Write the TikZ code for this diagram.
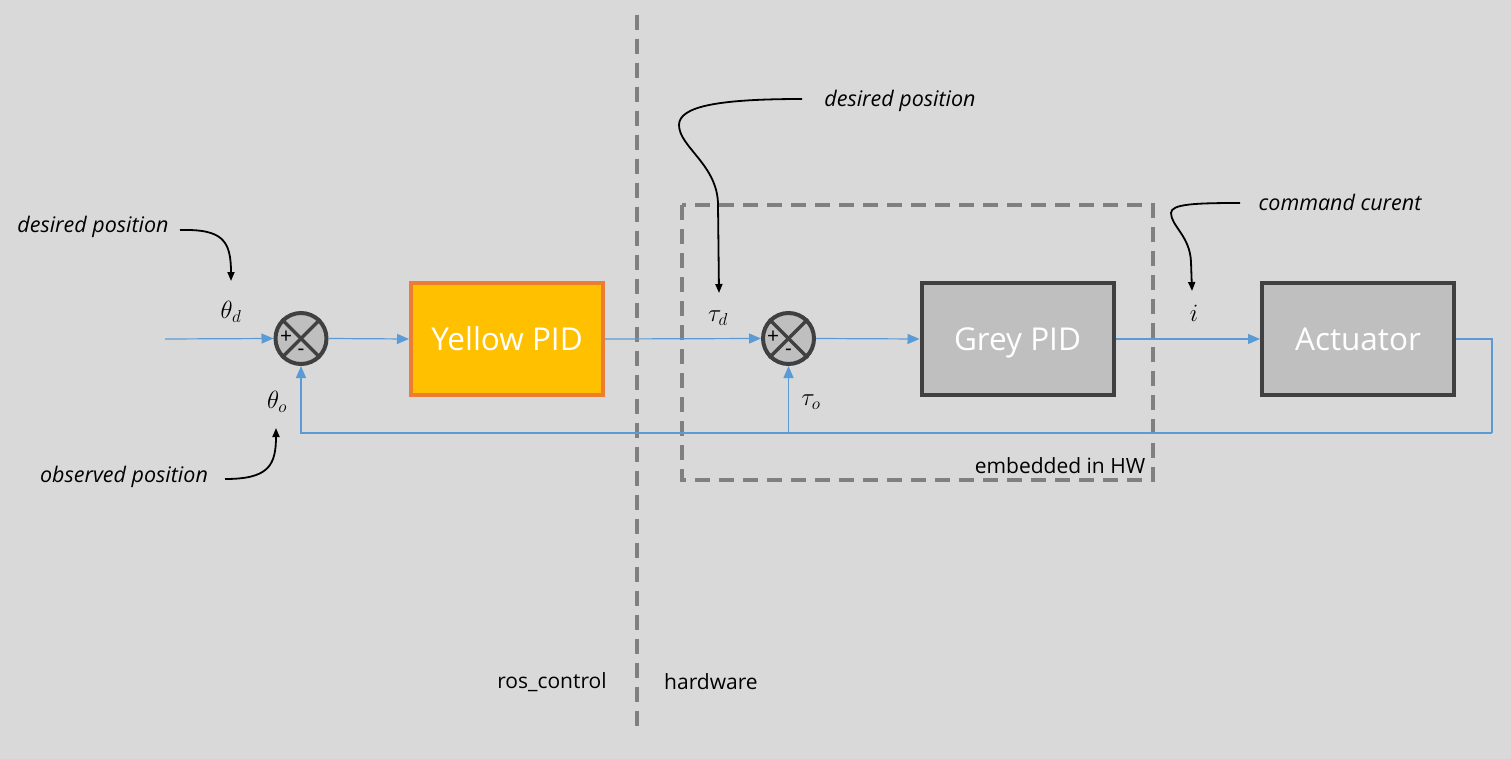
\documentclass[tikz,border=0pt]{standalone}
\usepackage{fontspec}
\setmainfont{Open Sans}
\usetikzlibrary{arrows.meta}
\definecolor{bg}{HTML}{D9D9D9}
\definecolor{sig}{HTML}{5B9BD5}
\definecolor{dk}{HTML}{404040}
\definecolor{boxgrey}{HTML}{BFBFBF}
\definecolor{ylw}{HTML}{FFC000}
\definecolor{org}{HTML}{ED7D31}
\definecolor{dash}{HTML}{808080}
\tikzset{
  sigline/.style={draw=sig, line width=1.2pt},
  sigarrow/.style={sigline, -{Triangle[length=12pt,width=10pt]}},
  sumnode/.style={circle, draw=dk, fill=boxgrey, line width=4pt, minimum size=51pt, inner sep=0pt},
  blockbox/.style={rectangle, line width=4pt, minimum width=192pt, minimum height=112pt, inner sep=0pt, text=white, font=\fontsize{31.5}{36}\selectfont, text height=22.5pt, text depth=0pt},
  notetext/.style={font=\fontsize{21.5}{25}\selectfont\itshape, inner sep=0pt},
  plaintext/.style={font=\fontsize{21}{25}\selectfont, inner sep=0pt},
  mathlabel/.style={font=\fontsize{23}{27}\selectfont, inner sep=0pt},
  signtext/.style={font=\fontsize{21}{24}\selectfont, inner sep=0pt},
  curvearrow/.style={draw=black, line width=1.8pt, -{Triangle[length=9pt,width=7pt]}},
  dashline/.style={draw=dash, line width=3.5pt, dash pattern=on 15pt off 9pt},
}
\begin{document}
\begin{tikzpicture}[x=1pt,y=-1pt]
\fill[bg] (0,0) rectangle (1511,759);
\useasboundingbox (0,0) rectangle (1511,759);

% dashed separators
\coordinate (vtop) at (637,15);
\coordinate (vbot) at (637,728);
\draw[dashline] (vtop) -- (vbot);
\coordinate (ebtl) at (682,205);
\coordinate (ebbr) at (1153,480);
\draw[dashline] (ebtl) rectangle (ebbr);

% blocks
\node[sumnode] (sum1) at (301,338.5) {};
\draw[dk, line width=3.5pt] (sum1.north west) -- (sum1.south east);
\draw[dk, line width=3.5pt] (sum1.north east) -- (sum1.south west);
\node[signtext] (p1) at (286,337) {+};
\node[signtext] (m1) at (301,352) {-};

\node[sumnode] (sum2) at (788.5,338.5) {};
\draw[dk, line width=3.5pt] (sum2.north west) -- (sum2.south east);
\draw[dk, line width=3.5pt] (sum2.north east) -- (sum2.south west);
\node[signtext] (p2) at (773,337) {+};
\node[signtext] (m2) at (788.5,352) {-};

\node[blockbox, fill=ylw, draw=org] (ypid) at (507,339) {Yellow PID};
\node[blockbox, fill=boxgrey, draw=dk] (gpid) at (1017.5,339) {Grey PID};
\node[blockbox, fill=boxgrey, draw=dk] (act) at (1358,339) {Actuator};

% signal lines
\coordinate (in) at (165,339);
\draw[sigarrow] (in) -- (sum1.west);
\draw[sigarrow] (sum1.east) -- (ypid.west);
\draw[sigarrow] (ypid.east) -- (sum2.west);
\draw[sigarrow] (sum2.east) -- (gpid.west);
\draw[sigarrow] (gpid.east) -- (act.west);
\coordinate (fbr) at (1492,433);
\coordinate (fbm) at (788.5,433);
\draw[sigline] (act.east) -| (fbr);
\draw[sigarrow] (fbr) -| (sum1.south);
\draw[sigarrow] (fbm) -- (sum2.south);

% math labels
\node[mathlabel] (thd) at (231,312) {$\theta_d$};
\node[mathlabel] (tho) at (277,402) {$\theta_o$};
\node[mathlabel] (taud) at (718,318) {$\tau_d$};
\node[mathlabel] (tauo) at (811,402) {$\tau_o$};
\node[mathlabel] (ilab) at (1194,313) {$i$};

% annotations
\node[notetext] (dp1) at (93,227) {desired position};
\node[notetext] (op) at (124,477) {observed position};
\node[notetext] (dp2) at (900,101) {desired position};
\node[notetext] (cc) at (1340,202) {command curent};
\node[plaintext] (emb) at (1060,466) {embedded in HW};
\node[plaintext] (ros) at (552,682) {ros\_control};
\node[plaintext] (hw) at (711,682) {hardware};

\coordinate (s1) at (180,230);
\coordinate (a1) at (231,281);
\draw[curvearrow] (s1) .. controls (222,229) and (231,240) .. (a1);
\coordinate (s2) at (225,479);
\coordinate (a2) at (276,428);
\draw[curvearrow] (s2) .. controls (268,479) and (276,466) .. (a2);
\coordinate (s3) at (802,99);
\coordinate (a3) at (719,293);
\draw[curvearrow] (s3) .. controls (720,99) and (679,106) .. (679,125)
  .. controls (679,147) and (718,165) .. (718,205) -- (a3);
\coordinate (s4) at (1240,203);
\coordinate (a4) at (1192,291);
\draw[curvearrow] (s4) .. controls (1195,203) and (1171,204) .. (1171,213)
  .. controls (1171,226) and (1190,236) .. (1191,262) -- (a4);
\end{tikzpicture}
\end{document}
